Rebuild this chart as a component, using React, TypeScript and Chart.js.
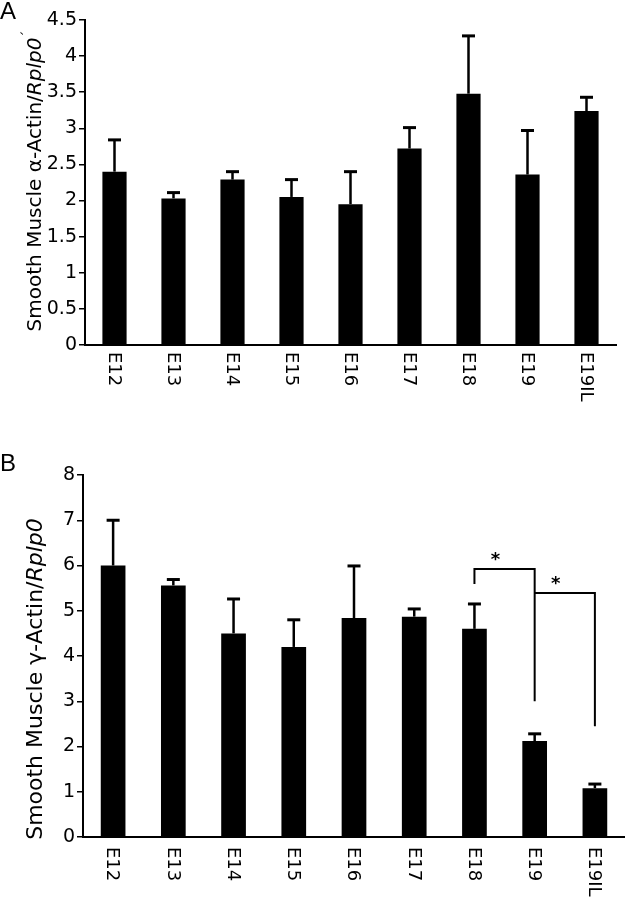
import React, { useEffect, useRef } from "react";
import { Chart, registerables } from "chart.js";

Chart.register(...registerables);

// ---------- data ----------
const categories = ["E12", "E13", "E14", "E15", "E16", "E17", "E18", "E19", "E19IL"];

const alphaMeans = [2.4, 2.03, 2.29, 2.05, 1.95, 2.72, 3.48, 2.36, 3.24];
const alphaErrors = [0.44, 0.08, 0.11, 0.24, 0.45, 0.29, 0.8, 0.61, 0.19];
const alphaTicks = [0, 0.5, 1, 1.5, 2, 2.5, 3, 3.5, 4, 4.5];

const gammaMeans = [6.0, 5.56, 4.5, 4.2, 4.84, 4.87, 4.6, 2.12, 1.08];
const gammaErrors = [1.0, 0.13, 0.76, 0.6, 1.15, 0.17, 0.55, 0.16, 0.09];
const gammaTicks = [0, 1, 2, 3, 4, 5, 6, 7, 8];

// significance brackets (category index + value-space heights)
const gammaBracketFrom = [6, 7];
const gammaBracketTo = [7, 8];
const gammaBracketTop = [5.92, 5.39];
const gammaBracketFromEnd = [5.59, 5.39];
const gammaBracketToEnd = [3.0, 2.45];
const gammaBracketLabel = ["*", "*"];

type TitlePart = { text: string; italic?: boolean; size?: number; dy?: number };

type PanelProps = {
  top: number;
  height: number;
  letter: string;
  letterBaseline: number;
  means: number[];
  errors: number[];
  ticks: number[];
  yMax: number;
  yWidth: number;
  padTop: number;
  padRight: number;
  xHeight: number;
  labelOffset: number;
  titleParts: TitlePart[];
  titleSize: number;
  titleX: number;
  titleCenterY: number;
  brackets?: boolean;
};

const FONT = "'DejaVu Sans', Verdana, sans-serif";

function Panel(p: PanelProps) {
  const ref = useRef<HTMLCanvasElement | null>(null);

  useEffect(() => {
    const canvas = ref.current;
    if (!canvas) return;

    const overlay = {
      id: "overlay",
      afterDraw(chart: any) {
        const ctx: CanvasRenderingContext2D = chart.ctx;
        const xs = chart.scales.x;
        const ys = chart.scales.y;
        const meta = chart.getDatasetMeta(0);
        ctx.save();
        ctx.fillStyle = "#000";
        ctx.strokeStyle = "#000";

        // error bars (upper only)
        p.means.forEach((m, i) => {
          const bar = meta.data[i];
          const x = bar.x;
          const y0 = ys.getPixelForValue(m);
          const y1 = ys.getPixelForValue(m + p.errors[i]);
          ctx.lineWidth = 2.5;
          ctx.beginPath();
          ctx.moveTo(x, y0);
          ctx.lineTo(x, y1);
          ctx.stroke();
          ctx.lineWidth = 3;
          ctx.beginPath();
          ctx.moveTo(x - 6.5, y1);
          ctx.lineTo(x + 6.5, y1);
          ctx.stroke();
        });

        // x labels rotated clockwise
        const axisY = chart.chartArea.bottom;
        ctx.font = `18px ${FONT}`;
        categories.forEach((c, i) => {
          const x = xs.getPixelForValue(i);
          ctx.save();
          ctx.translate(x - 1, axisY + p.labelOffset);
          ctx.rotate(Math.PI / 2);
          ctx.textAlign = "left";
          ctx.textBaseline = "middle";
          ctx.fillText(c, 0, 0);
          ctx.restore();
        });

        // y title (rich text, rotated)
        ctx.save();
        ctx.translate(p.titleX, p.titleCenterY);
        ctx.rotate(-Math.PI / 2);
        ctx.textAlign = "left";
        ctx.textBaseline = "middle";
        const fontOf = (t: TitlePart) =>
          `${t.italic ? "italic " : ""}${t.size ?? p.titleSize}px ${FONT}`;
        const widths = p.titleParts.map((t) => {
          ctx.font = fontOf(t);
          return ctx.measureText(t.text).width;
        });
        const total = widths.reduce((a, b) => a + b, 0);
        let tx = -total / 2;
        p.titleParts.forEach((t, i) => {
          ctx.font = fontOf(t);
          ctx.fillText(t.text, tx, t.dy ?? 0);
          tx += widths[i];
        });
        ctx.restore();

        // panel letter
        ctx.font = `24px 'Liberation Sans', Arial, sans-serif`;
        ctx.textAlign = "left";
        ctx.textBaseline = "alphabetic";
        ctx.fillText(p.letter, 0, p.letterBaseline);

        // significance brackets
        if (p.brackets) {
          ctx.lineWidth = 2;
          gammaBracketFrom.forEach((f, k) => {
            const xa = xs.getPixelForValue(f);
            const xb = xs.getPixelForValue(gammaBracketTo[k]);
            const yt = ys.getPixelForValue(gammaBracketTop[k]);
            const ya = ys.getPixelForValue(gammaBracketFromEnd[k]);
            const yb = ys.getPixelForValue(gammaBracketToEnd[k]);
            ctx.beginPath();
            ctx.moveTo(xa, ya);
            ctx.lineTo(xa, yt);
            ctx.lineTo(xb, yt);
            ctx.lineTo(xb, yb);
            ctx.stroke();
            ctx.font = `bold 18px ${FONT}`;
            ctx.textAlign = "center";
            ctx.textBaseline = "middle";
            ctx.fillText(gammaBracketLabel[k], xa + 0.35 * (xb - xa), yt - 9);
          });
        }
        ctx.restore();
      },
    };

    const chart = new Chart(canvas, {
      type: "bar",
      data: {
        labels: categories,
        datasets: [
          {
            data: p.means,
            backgroundColor: "#000",
            borderWidth: 0,
            barPercentage: 0.41,
            categoryPercentage: 1.0,
          },
        ],
      },
      options: {
        responsive: false,
        animation: false,
        devicePixelRatio: 1,
        layout: { padding: { top: p.padTop, right: p.padRight, left: 0, bottom: 0 } },
        plugins: { legend: { display: false }, tooltip: { enabled: false } },
        scales: {
          x: {
            type: "category",
            offset: true,
            grid: { display: true, drawOnChartArea: false, drawTicks: false },
            border: { display: true, color: "#000", width: 2 },
            ticks: { display: false },
            afterFit: (s: any) => {
              s.height = p.xHeight;
            },
          },
          y: {
            min: 0,
            max: p.yMax,
            afterBuildTicks: (s: any) => {
              s.ticks = p.ticks.map((v) => ({ value: v }));
            },
            ticks: {
              color: "#000",
              font: { family: FONT, size: 19 },
              padding: 2,
              callback: (v: any) => String(v),
            },
            grid: {
              drawOnChartArea: false,
              drawTicks: true,
              tickLength: 6,
              color: "#000",
              lineWidth: 1.5,
            },
            border: { display: true, color: "#000", width: 2 },
            afterFit: (s: any) => {
              s.width = p.yWidth;
            },
          },
        },
      },
      plugins: [overlay],
    } as any);

    return () => chart.destroy();
  }, []);

  return (
    <canvas
      ref={ref}
      width={625}
      height={p.height}
      style={{ position: "absolute", left: 0, top: p.top, width: 625, height: p.height, display: "block" }}
    />
  );
}

export default function App() {
  return (
    <div
      style={{
        position: "fixed",
        left: 0,
        top: 0,
        width: 625,
        height: 900,
        background: "#fff",
        overflow: "hidden",
      }}
    >
      <Panel
        top={0}
        height={440}
        letter="A"
        letterBaseline={19}
        means={alphaMeans}
        errors={alphaErrors}
        ticks={alphaTicks}
        yMax={4.5}
        yWidth={85}
        padTop={20}
        padRight={9}
        xHeight={95}
        labelOffset={7}
        titleParts={[
          { text: "Smooth Muscle " },
          { text: "α" },
          { text: "-Actin/" },
          { text: "Rplp0", italic: true },
          { text: "´", size: 14, dy: -8 },
        ]}
        titleSize={20}
        titleX={36}
        titleCenterY={181}
      />
      <Panel
        top={445}
        height={455}
        letter="B"
        letterBaseline={26}
        means={gammaMeans}
        errors={gammaErrors}
        ticks={gammaTicks}
        yMax={8}
        yWidth={83}
        padTop={30}
        padRight={0}
        xHeight={63}
        labelOffset={10}
        titleParts={[
          { text: "Smooth Muscle " },
          { text: "γ" },
          { text: "-Actin/" },
          { text: "Rplp0", italic: true },
        ]}
        titleSize={22}
        titleX={36}
        titleCenterY={234}
        brackets
      />
    </div>
  );
}
